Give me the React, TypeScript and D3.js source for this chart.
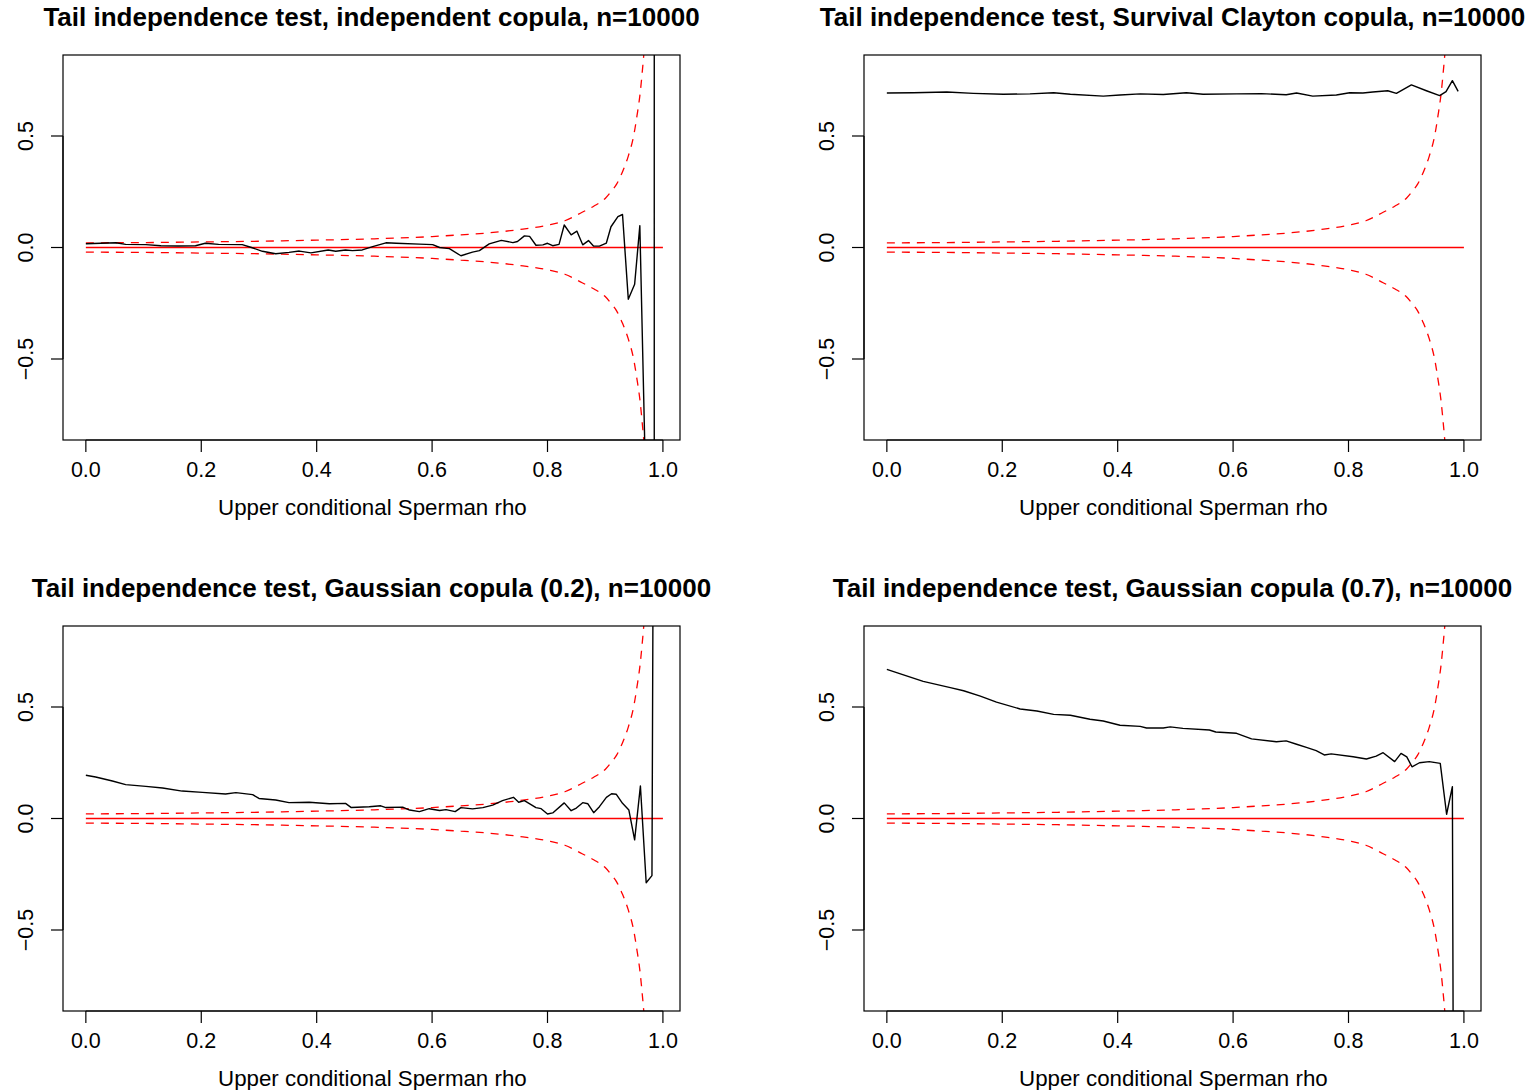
import React from "react";
import * as d3 from "d3";

// ---------- data ----------
const titles = [
  "Tail independence test, independent copula, n=10000",
  "Tail independence test, Survival Clayton copula, n=10000",
  "Tail independence test, Gaussian copula (0.2), n=10000",
  "Tail independence test, Gaussian copula (0.7), n=10000",
];
const xLabel = "Upper conditional Sperman rho";
const xTicks = [0, 0.2, 0.4, 0.6, 0.8, 1.0];
const xTickLabels = ["0.0", "0.2", "0.4", "0.6", "0.8", "1.0"];
const yTicks = [-0.5, 0, 0.5];
const yTickLabels = ["\u22120.5", "0.0", "0.5"];

const indepX = [0, 0.052, 0.069, 0.104, 0.13, 0.16, 0.19, 0.207, 0.23, 0.271, 0.287, 0.306, 0.329, 0.352, 0.37, 0.39, 0.42, 0.433, 0.45, 0.462, 0.479, 0.497, 0.52, 0.538, 0.578, 0.601, 0.613, 0.63, 0.65, 0.67, 0.682, 0.699, 0.72, 0.74, 0.748, 0.76, 0.769, 0.78, 0.792, 0.8, 0.809, 0.82, 0.829, 0.841, 0.851, 0.861, 0.871, 0.88, 0.89, 0.902, 0.91, 0.922, 0.93, 0.94, 0.951, 0.96, 0.97, 0.98, 0.99];
const indepY = [0.017, 0.0215, 0.014, 0.013, 0.008, 0.007, 0.008, 0.019, 0.014, 0.013, 0.0, -0.017, -0.028, -0.022, -0.016, -0.024, -0.011, -0.017, -0.011, -0.014, -0.011, 0.004, 0.021, 0.019, 0.015, 0.013, 0.0, -0.005, -0.037, -0.021, -0.014, 0.016, 0.032, 0.022, 0.027, 0.052, 0.05, 0.01, 0.012, 0.019, 0.008, 0.014, 0.101, 0.057, 0.073, 0.012, 0.031, 0.006, 0.006, 0.02, 0.093, 0.138, 0.148, -0.232, -0.165, 0.098, -1.05, -1000, 1000];

const claytonX = [0, 0.046, 0.104, 0.15, 0.202, 0.248, 0.289, 0.318, 0.375, 0.404, 0.439, 0.479, 0.519, 0.548, 0.606, 0.649, 0.692, 0.71, 0.738, 0.779, 0.802, 0.825, 0.842, 0.868, 0.883, 0.909, 0.935, 0.958, 0.969, 0.98, 0.99];
const claytonY = [0.693, 0.694, 0.697, 0.691, 0.687, 0.689, 0.694, 0.687, 0.679, 0.684, 0.689, 0.686, 0.694, 0.687, 0.689, 0.69, 0.685, 0.693, 0.679, 0.684, 0.694, 0.693, 0.697, 0.703, 0.691, 0.729, 0.703, 0.681, 0.699, 0.748, 0.7];

const gauss02X = [0, 0.017, 0.046, 0.069, 0.104, 0.133, 0.167, 0.202, 0.242, 0.26, 0.289, 0.3, 0.329, 0.352, 0.387, 0.422, 0.45, 0.46, 0.491, 0.511, 0.52, 0.549, 0.561, 0.578, 0.595, 0.613, 0.624, 0.64, 0.65, 0.67, 0.688, 0.705, 0.722, 0.741, 0.75, 0.76, 0.78, 0.789, 0.8, 0.809, 0.829, 0.841, 0.85, 0.861, 0.87, 0.88, 0.89, 0.902, 0.911, 0.919, 0.93, 0.941, 0.951, 0.961, 0.971, 0.981, 0.99];
const gauss02Y = [0.194, 0.186, 0.168, 0.152, 0.144, 0.137, 0.123, 0.117, 0.11, 0.116, 0.107, 0.09, 0.083, 0.071, 0.073, 0.066, 0.068, 0.049, 0.053, 0.057, 0.049, 0.051, 0.038, 0.031, 0.044, 0.036, 0.04, 0.031, 0.049, 0.043, 0.049, 0.06, 0.08, 0.095, 0.073, 0.08, 0.049, 0.044, 0.02, 0.025, 0.07, 0.035, 0.047, 0.071, 0.066, 0.026, 0.053, 0.095, 0.111, 0.109, 0.068, 0.038, -0.096, 0.146, -0.288, -0.256, 6];

const gauss07X = [0, 0.017, 0.063, 0.11, 0.133, 0.162, 0.19, 0.231, 0.26, 0.289, 0.318, 0.352, 0.375, 0.404, 0.439, 0.45, 0.479, 0.491, 0.513, 0.559, 0.57, 0.606, 0.632, 0.675, 0.692, 0.71, 0.727, 0.744, 0.758, 0.77, 0.808, 0.831, 0.848, 0.86, 0.88, 0.891, 0.901, 0.91, 0.923, 0.94, 0.959, 0.97, 0.98, 0.99];
const gauss07Y = [0.669, 0.654, 0.615, 0.587, 0.573, 0.549, 0.522, 0.491, 0.482, 0.467, 0.463, 0.445, 0.437, 0.418, 0.413, 0.406, 0.406, 0.411, 0.404, 0.397, 0.388, 0.382, 0.357, 0.344, 0.348, 0.333, 0.319, 0.304, 0.285, 0.29, 0.277, 0.267, 0.28, 0.295, 0.255, 0.292, 0.276, 0.232, 0.25, 0.255, 0.247, 0.019, 0.143, -8];

// confidence bounds (red dashed), same in every panel
const boundX = [0, 0.1, 0.2, 0.3, 0.4, 0.5, 0.6, 0.65, 0.7, 0.75, 0.8, 0.83, 0.86, 0.88, 0.9, 0.91, 0.92, 0.93, 0.94, 0.95, 0.955, 0.96, 0.965, 0.968];
const boundUpper = [0.021, 0.022, 0.025, 0.028, 0.033, 0.039, 0.049, 0.057, 0.066, 0.08, 0.1, 0.12, 0.158, 0.185, 0.22, 0.25, 0.285, 0.34, 0.41, 0.51, 0.59, 0.68, 0.81, 0.9];
const boundLower = [-0.021, -0.022, -0.025, -0.028, -0.033, -0.039, -0.049, -0.057, -0.066, -0.08, -0.1, -0.12, -0.158, -0.185, -0.22, -0.25, -0.285, -0.34, -0.41, -0.51, -0.59, -0.68, -0.81, -0.9];
const refLineX = [0, 1];
const refLineY = [0, 0];

const seriesX = [indepX, claytonX, gauss02X, gauss07X];
const seriesY = [indepY, claytonY, gauss02Y, gauss07Y];

// ---------- layout ----------
const W = 1533;
const H = 1090;
const BOX_W = 617;
const BOX_H = 385;
const panelPos = [
  { left: 63, top: 55 },
  { left: 864, top: 55 },
  { left: 63, top: 626 },
  { left: 864, top: 626 },
];
const X_DOMAIN = [-0.0396, 1.0296];
const Y_DOMAIN = [-0.8632, 0.8632];
const FONT = "'Liberation Sans', Arial, Helvetica, sans-serif";

const zip = (xs: number[], ys: number[]) => xs.map((v, i) => [v, ys[i]] as [number, number]);

function Panel({ i }: { i: number }) {
  const { left, top } = panelPos[i];
  const x = d3.scaleLinear().domain(X_DOMAIN).range([left, left + BOX_W]);
  const y = d3.scaleLinear().domain(Y_DOMAIN).range([top + BOX_H, top]);
  const lin = d3.line<[number, number]>().x((d) => x(d[0])).y((d) => y(d[1]));
  const smooth = d3
    .line<[number, number]>()
    .x((d) => x(d[0]))
    .y((d) => y(d[1]))
    .curve(d3.curveMonotoneX);
  const clipId = `clip${i}`;
  const bottom = top + BOX_H;
  const cx = left + BOX_W / 2;
  return (
    <g>
      <defs>
        <clipPath id={clipId}>
          <rect x={left} y={top} width={BOX_W} height={BOX_H} />
        </clipPath>
      </defs>
      <text
        x={cx}
        y={top - 38}
        textAnchor="middle"
        dy="0.35em"
        fontWeight="bold"
        fontSize={26}
        fontFamily={FONT}
      >
        {titles[i]}
      </text>
      <g clipPath={`url(#${clipId})`}>
        <path d={lin(zip(refLineX, refLineY)) || ""} fill="none" stroke="#ff0000" strokeWidth={1.4} />
        <path d={smooth(zip(boundX, boundUpper)) || ""} fill="none" stroke="#ff0000" strokeWidth={1.3} strokeDasharray="8,7" />
        <path d={smooth(zip(boundX, boundLower)) || ""} fill="none" stroke="#ff0000" strokeWidth={1.3} strokeDasharray="8,7" />
        <path d={lin(zip(seriesX[i], seriesY[i])) || ""} fill="none" stroke="#000" strokeWidth={1.4} strokeLinejoin="round" />
      </g>
      <rect x={left} y={top} width={BOX_W} height={BOX_H} fill="none" stroke="#000" strokeWidth={1.2} />
      {/* x axis */}
      <line x1={x(xTicks[0])} x2={x(xTicks[xTicks.length - 1])} y1={bottom} y2={bottom} stroke="#000" strokeWidth={1.2} />
      {xTicks.map((t, k) => (
        <g key={k}>
          <line x1={x(t)} x2={x(t)} y1={bottom} y2={bottom + 12} stroke="#000" strokeWidth={1.2} />
          <text x={x(t)} y={bottom + 29} dy="0.35em" textAnchor="middle" fontSize={21.5} fontFamily={FONT}>
            {xTickLabels[k]}
          </text>
        </g>
      ))}
      <text x={x(0.5) - 2} y={bottom + 67} dy="0.35em" textAnchor="middle" fontSize={22.3} fontFamily={FONT}>
        {xLabel}
      </text>
      {/* y axis */}
      <line x1={left} x2={left} y1={y(yTicks[0])} y2={y(yTicks[yTicks.length - 1])} stroke="#000" strokeWidth={1.2} />
      {yTicks.map((t, k) => (
        <g key={k}>
          <line x1={left} x2={left - 12} y1={y(t)} y2={y(t)} stroke="#000" strokeWidth={1.2} />
          <text
            transform={`translate(${left - 38},${y(t)}) rotate(-90)`}
            dy="0.35em"
            textAnchor="middle"
            fontSize={21.5}
            fontFamily={FONT}
          >
            {yTickLabels[k]}
          </text>
        </g>
      ))}
    </g>
  );
}

export default function App() {
  return (
    <svg
      width={W}
      height={H}
      viewBox={`0 0 ${W} ${H}`}
      style={{ position: "absolute", left: 0, top: 0, background: "#fff" }}
    >
      <rect x={0} y={0} width={W} height={H} fill="#fff" />
      {[0, 1, 2, 3].map((i) => (
        <Panel key={i} i={i} />
      ))}
    </svg>
  );
}
